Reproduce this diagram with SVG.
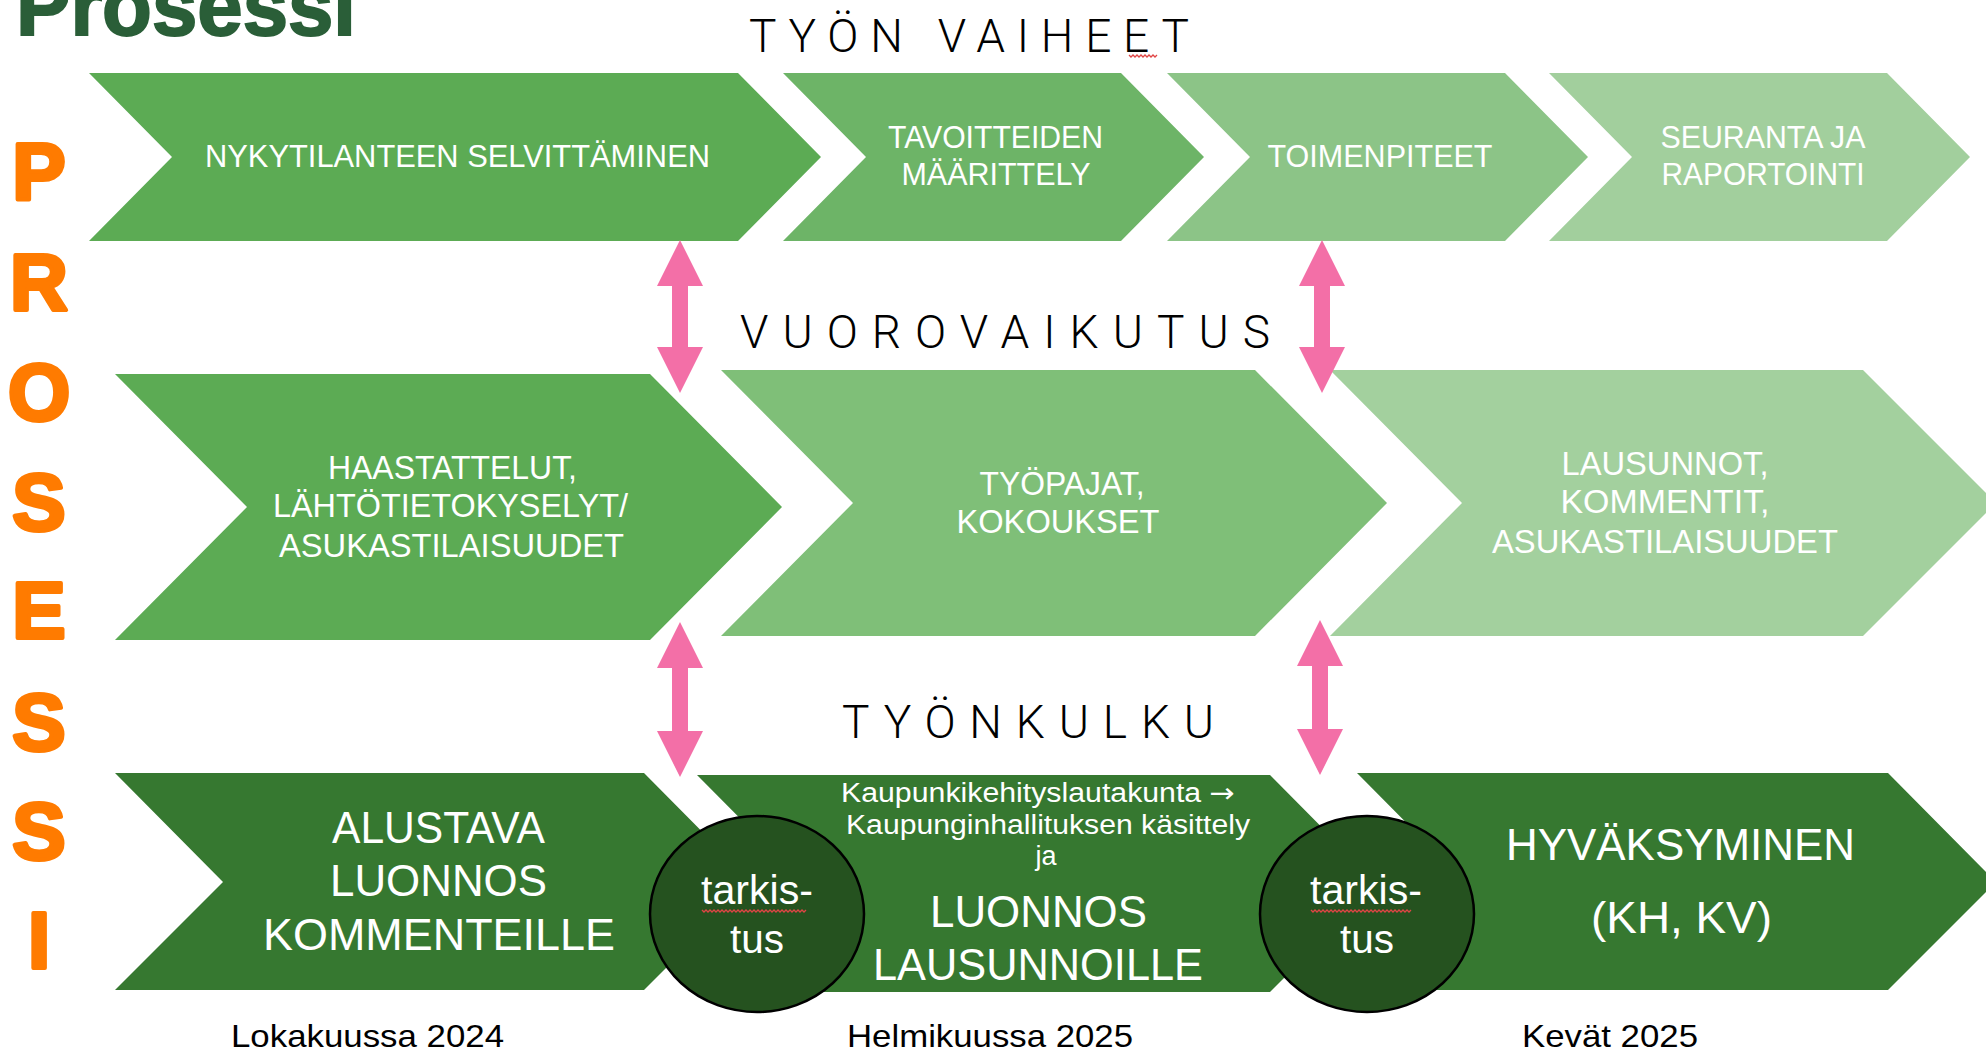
<svg xmlns="http://www.w3.org/2000/svg" width="1986" height="1051" viewBox="0 0 1986 1051">
<defs>
<style>
.lbl{font-family:"Liberation Sans",Arial,sans-serif;fill:#ffffff;text-anchor:middle}
.t31{font-size:31px}
.t33{font-size:33px}
.t45{font-size:45px}
.t27{font-size:27px}
.t40{font-size:40px}
.head{font-family:Roboto,"Liberation Sans",sans-serif;font-weight:300;font-size:46px;fill:#000000}
.date{font-family:"Liberation Sans",Arial,sans-serif;font-size:32px;fill:#000000;text-anchor:middle}
.pro{font-family:"Liberation Sans",Arial,sans-serif;font-weight:bold;font-size:80px;fill:#ff7b00;stroke:#ff7b00;stroke-width:4;stroke-linejoin:round;text-anchor:middle}
.arrow{fill:#f36fa7}
.circ{fill:#25521f;stroke:#000000;stroke-width:2.5}
.sq{fill:none;stroke:#e04545;stroke-width:1.3}
</style>
</defs>
<rect width="1986" height="1051" fill="#ffffff"/>

<g id="title">
<text x="16" y="35" textLength="340" lengthAdjust="spacingAndGlyphs" style="font-family:'Liberation Sans',Arial,sans-serif;font-weight:bold;font-size:84px;fill:#2a5e38;stroke:#2a5e38;stroke-width:2">Prosessi</text>
</g>

<g id="side-label">
<text class="pro" x="39" y="199">P</text>
<text class="pro" x="39" y="310">R</text>
<text class="pro" x="39" y="420">O</text>
<text class="pro" x="39" y="530">S</text>
<text class="pro" x="39" y="638">E</text>
<text class="pro" x="39" y="750">S</text>
<text class="pro" x="39" y="859">S</text>
<text class="pro" x="39" y="968">I</text>
</g>

<g id="headings">
<text class="head" x="749" y="52" textLength="440" lengthAdjust="spacing">TYÖN VAIHEET</text>
<text class="head" x="740" y="348" textLength="530" lengthAdjust="spacing">VUOROVAIKUTUS</text>
<text class="head" x="842" y="738" textLength="372" lengthAdjust="spacing">TYÖNKULKU</text>
<path class="sq" d="M1129 55 l2 2 l2 -2 l2 2 l2 -2 l2 2 l2 -2 l2 2 l2 -2 l2 2 l2 -2 l2 2 l2 -2 l2 2 l2 -2"/>
</g>

<g id="vaihe1">
<polygon points="89,73 738,73 821,157 738,241 89,241 172,157" fill="#5cab54"/>
<text class="lbl t31" x="457.5" y="167" textLength="505" lengthAdjust="spacingAndGlyphs">NYKYTILANTEEN SELVITTÄMINEN</text>
</g>
<g id="vaihe2">
<polygon points="783,73 1121,73 1204,157 1121,241 783,241 866,157" fill="#6db467"/>
<text class="lbl t31" x="995.5" y="148" textLength="215" lengthAdjust="spacingAndGlyphs">TAVOITTEIDEN</text>
<text class="lbl t31" x="996" y="185" textLength="189" lengthAdjust="spacingAndGlyphs">MÄÄRITTELY</text>
</g>
<g id="vaihe3">
<polygon points="1167,73 1505,73 1588,157 1505,241 1167,241 1250,157" fill="#8cc487"/>
<text class="lbl t31" x="1380" y="167" textLength="225" lengthAdjust="spacingAndGlyphs">TOIMENPITEET</text>
</g>
<g id="vaihe4">
<polygon points="1549,73 1887,73 1970,157 1887,241 1549,241 1632,157" fill="#a2cf9d"/>
<text class="lbl t31" x="1763" y="148" textLength="205" lengthAdjust="spacingAndGlyphs">SEURANTA JA</text>
<text class="lbl t31" x="1763" y="185" textLength="203" lengthAdjust="spacingAndGlyphs">RAPORTOINTI</text>
</g>

<g id="vuoro1">
<polygon points="115,374 650,374 782,507 650,640 115,640 247,507" fill="#5cab54"/>
<text class="lbl t33" x="452.5" y="479" textLength="249" lengthAdjust="spacingAndGlyphs">HAASTATTELUT,</text>
<text class="lbl t33" x="450.5" y="517" textLength="355" lengthAdjust="spacingAndGlyphs">LÄHTÖTIETOKYSELYT/</text>
<text class="lbl t33" x="451.5" y="557" textLength="345" lengthAdjust="spacingAndGlyphs">ASUKASTILAISUUDET</text>
</g>
<g id="vuoro2">
<polygon points="721,370 1255,370 1387,503 1255,636 721,636 853,503" fill="#7fbf78"/>
<text class="lbl t33" x="1062" y="495" textLength="165" lengthAdjust="spacingAndGlyphs">TYÖPAJAT,</text>
<text class="lbl t33" x="1058" y="533" textLength="203" lengthAdjust="spacingAndGlyphs">KOKOUKSET</text>
</g>
<g id="vuoro3">
<polygon points="1330,370 1863,370 1996,503 1863,636 1330,636 1462,503" fill="#a3d09e"/>
<text class="lbl t33" x="1665" y="475" textLength="207" lengthAdjust="spacingAndGlyphs">LAUSUNNOT,</text>
<text class="lbl t33" x="1665" y="513" textLength="209" lengthAdjust="spacingAndGlyphs">KOMMENTIT,</text>
<text class="lbl t33" x="1665" y="553" textLength="346" lengthAdjust="spacingAndGlyphs">ASUKASTILAISUUDET</text>
</g>

<g id="kulku1">
<polygon points="115,773 644,773 752,882 644,990 115,990 223,882" fill="#367830"/>
<text class="lbl t45" x="438.5" y="843" textLength="213" lengthAdjust="spacingAndGlyphs">ALUSTAVA</text>
<text class="lbl t45" x="438.5" y="896" textLength="217" lengthAdjust="spacingAndGlyphs">LUONNOS</text>
<text class="lbl t45" x="439" y="950" textLength="352" lengthAdjust="spacingAndGlyphs">KOMMENTEILLE</text>
</g>
<g id="kulku2">
<polygon points="697,775 1270,775 1378,884 1270,992 697,992 805,884" fill="#367830"/>
<text class="lbl t27" x="1038" y="802" textLength="394" lengthAdjust="spacingAndGlyphs">Kaupunkikehityslautakunta <tspan style="font-family:'DejaVu Sans',sans-serif">→</tspan></text>
<text class="lbl t27" x="1048" y="834" textLength="404" lengthAdjust="spacingAndGlyphs">Kaupunginhallituksen käsittely</text>
<text class="lbl t27" x="1046" y="865">ja</text>
<text class="lbl t45" x="1038.5" y="927" textLength="217" lengthAdjust="spacingAndGlyphs">LUONNOS</text>
<text class="lbl t45" x="1038" y="980" textLength="330" lengthAdjust="spacingAndGlyphs">LAUSUNNOILLE</text>
</g>
<g id="kulku3">
<polygon points="1357,773 1888,773 1996,882 1888,990 1357,990 1465,882" fill="#367830"/>
<text class="lbl t45" x="1680.5" y="860" textLength="349" lengthAdjust="spacingAndGlyphs">HYVÄKSYMINEN</text>
<text class="lbl t45" x="1681.5" y="933" textLength="181" lengthAdjust="spacingAndGlyphs">(KH, KV)</text>
</g>

<g id="tarkistus1">
<ellipse class="circ" cx="757" cy="914" rx="107" ry="98"/>
<text class="lbl t40" x="757" y="904" textLength="112" lengthAdjust="spacingAndGlyphs">tarkis-</text>
<text class="lbl t40" x="757" y="953" textLength="54" lengthAdjust="spacingAndGlyphs">tus</text>
<path class="sq" d="M702 910 l2 2 l2 -2 l2 2 l2 -2 l2 2 l2 -2 l2 2 l2 -2 l2 2 l2 -2 l2 2 l2 -2 l2 2 l2 -2 l2 2 l2 -2 l2 2 l2 -2 l2 2 l2 -2 l2 2 l2 -2 l2 2 l2 -2 l2 2 l2 -2 l2 2 l2 -2 l2 2 l2 -2 l2 2 l2 -2 l2 2 l2 -2 l2 2 l2 -2 l2 2 l2 -2 l2 2 l2 -2 l2 2 l2 -2 l2 2 l2 -2 l2 2 l2 -2 l2 2 l2 -2 l2 2 l2 -2 l2 2 l2 -2"/>
</g>
<g id="tarkistus2">
<ellipse class="circ" cx="1367" cy="914" rx="107" ry="98"/>
<text class="lbl t40" x="1366" y="904" textLength="112" lengthAdjust="spacingAndGlyphs">tarkis-</text>
<text class="lbl t40" x="1367" y="953" textLength="54" lengthAdjust="spacingAndGlyphs">tus</text>
<path class="sq" d="M1311 910 l2 2 l2 -2 l2 2 l2 -2 l2 2 l2 -2 l2 2 l2 -2 l2 2 l2 -2 l2 2 l2 -2 l2 2 l2 -2 l2 2 l2 -2 l2 2 l2 -2 l2 2 l2 -2 l2 2 l2 -2 l2 2 l2 -2 l2 2 l2 -2 l2 2 l2 -2 l2 2 l2 -2 l2 2 l2 -2 l2 2 l2 -2 l2 2 l2 -2 l2 2 l2 -2 l2 2 l2 -2 l2 2 l2 -2 l2 2 l2 -2 l2 2 l2 -2 l2 2 l2 -2 l2 2 l2 -2"/>
</g>

<g id="dates">
<text class="date" x="367.5" y="1047" textLength="273" lengthAdjust="spacingAndGlyphs">Lokakuussa 2024</text>
<text class="date" x="990" y="1047" textLength="286" lengthAdjust="spacingAndGlyphs">Helmikuussa 2025</text>
<text class="date" x="1610" y="1047" textLength="176" lengthAdjust="spacingAndGlyphs">Kevät 2025</text>
</g>

<g id="connectors">
<polygon class="arrow" points="680,240 703,286 688,286 688,347 703,347 680,393 657,347 672,347 672,286 657,286"/>
<polygon class="arrow" points="1322,240 1345,286 1330,286 1330,347 1345,347 1322,393 1299,347 1314,347 1314,286 1299,286"/>
<polygon class="arrow" points="680,622 703,668 688,668 688,731 703,731 680,777 657,731 672,731 672,668 657,668"/>
<polygon class="arrow" points="1320,620 1343,666 1328,666 1328,729 1343,729 1320,775 1297,729 1312,729 1312,666 1297,666"/>
</g>
</svg>
